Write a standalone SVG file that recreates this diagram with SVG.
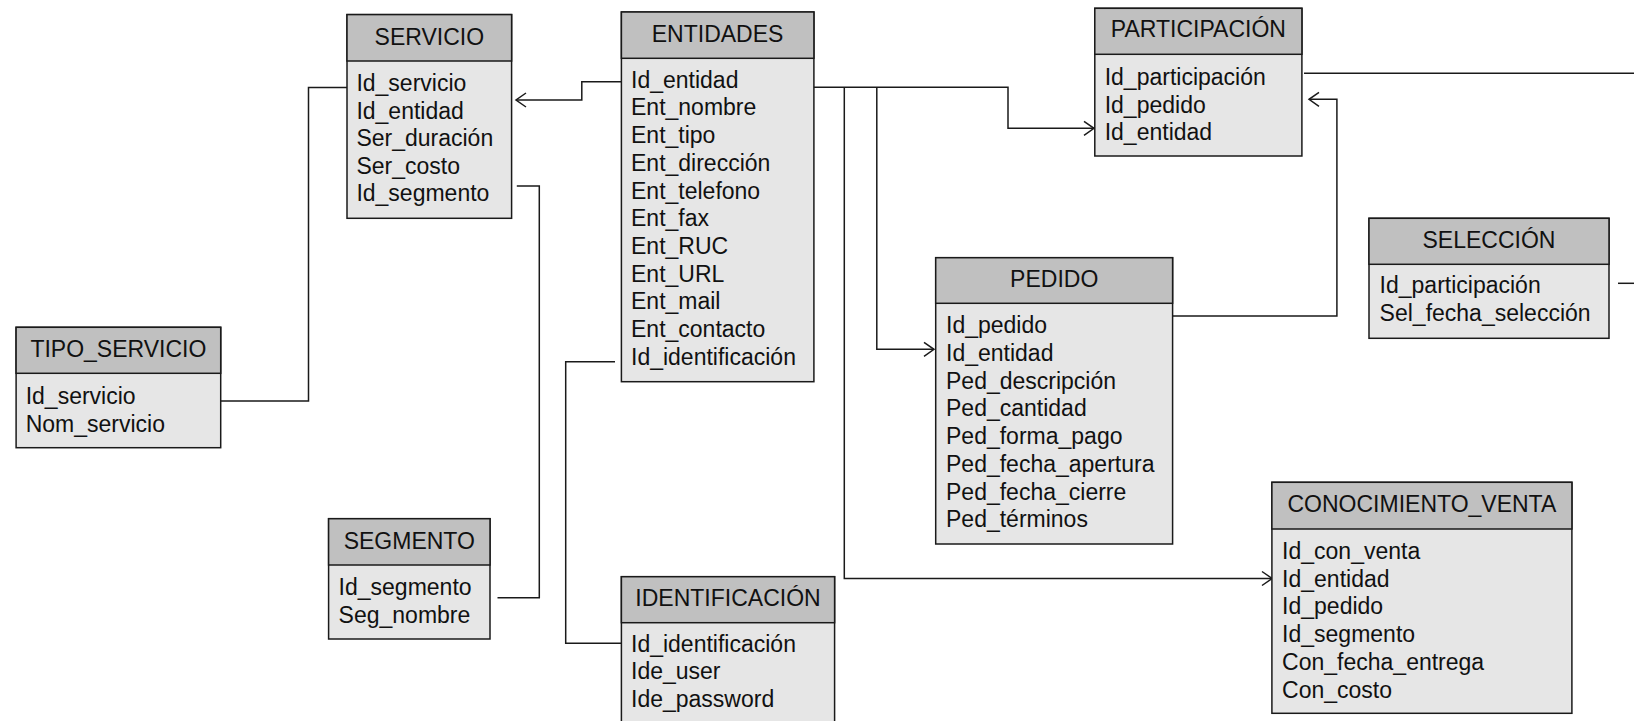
<svg xmlns="http://www.w3.org/2000/svg" width="1634" height="721" viewBox="0 0 1634 721">
<style>
  .hd { fill: #c0c0c0; stroke: #1a1a1a; stroke-width: 1.5; }
  .bd { fill: #e6e6e6; stroke: #1a1a1a; stroke-width: 1.5; }
  text { font-family: "Liberation Sans", Arial, sans-serif; font-size: 23px; fill: #111; }
  .t { text-anchor: middle; }
  .c { fill: none; stroke: #1a1a1a; stroke-width: 1.5; }
</style>
<defs>
  <marker id="arr" markerUnits="userSpaceOnUse" markerWidth="14" markerHeight="18" refX="11" refY="8" orient="auto" viewBox="0 0 14 16">
    <path d="M1,1 L11,8 L1,15" fill="none" stroke="#1a1a1a" stroke-width="1.5"/>
  </marker>
</defs>
<rect width="1634" height="721" fill="#ffffff"/>

<g id="connectors">
  <path class="c" d="M220.7,401 H308.5 V87.5 H352"/>
  <path class="c" d="M623,81.7 H581.8 V100 H516" marker-end="url(#arr)"/>
  <path class="c" d="M811,87.3 H1008 V128.3 H1094" marker-end="url(#arr)"/>
  <path class="c" d="M844.3,87.3 V578.5 H1272" marker-end="url(#arr)"/>
  <path class="c" d="M876.8,87.3 V349.3 H934" marker-end="url(#arr)"/>
  <path class="c" d="M615,361.7 H565.7 V643.3 H622"/>
  <path class="c" d="M516.8,186 H539.3 V597.7 H497.5"/>
  <path class="c" d="M1172.6,316 H1336.9 V99.3 H1309" marker-end="url(#arr)"/>
  <path class="c" d="M1304,73.3 H1634"/>
  <path class="c" d="M1618,283.3 H1634"/>
</g>

<g id="servicio">
  <rect class="bd" x="347" y="14.6" width="164.6" height="203.7"/>
  <rect class="hd" x="347" y="14.6" width="164.6" height="46.4"/>
  <text class="t" x="429.3" y="45">SERVICIO</text>
  <text x="356.4" y="91">Id_servicio</text>
  <text x="356.4" y="118.6">Id_entidad</text>
  <text x="356.4" y="146.2">Ser_duración</text>
  <text x="356.4" y="173.8">Ser_costo</text>
  <text x="356.4" y="201.4">Id_segmento</text>
</g>

<g id="entidades">
  <rect class="bd" x="621.4" y="12" width="192.5" height="369.7"/>
  <rect class="hd" x="621.4" y="12" width="192.5" height="46.3"/>
  <text class="t" x="717.6" y="41.7">ENTIDADES</text>
  <text x="631" y="87.7">Id_entidad</text>
  <text x="631" y="115.4">Ent_nombre</text>
  <text x="631" y="143.1">Ent_tipo</text>
  <text x="631" y="170.8">Ent_dirección</text>
  <text x="631" y="198.5">Ent_telefono</text>
  <text x="631" y="226.2">Ent_fax</text>
  <text x="631" y="253.9">Ent_RUC</text>
  <text x="631" y="281.6">Ent_URL</text>
  <text x="631" y="309.3">Ent_mail</text>
  <text x="631" y="337">Ent_contacto</text>
  <text x="631" y="364.7">Id_identificación</text>
</g>

<g id="tipo_servicio">
  <rect class="bd" x="16.1" y="327.3" width="204.6" height="120.4"/>
  <rect class="hd" x="16.1" y="327.3" width="204.6" height="46"/>
  <text class="t" x="118.4" y="357.3">TIPO_SERVICIO</text>
  <text x="25.7" y="404">Id_servicio</text>
  <text x="25.7" y="431.6">Nom_servicio</text>
</g>

<g id="segmento">
  <rect class="bd" x="328.6" y="518.7" width="161.4" height="120.3"/>
  <rect class="hd" x="328.6" y="518.7" width="161.4" height="46.3"/>
  <text class="t" x="409.3" y="549.3">SEGMENTO</text>
  <text x="338.6" y="595">Id_segmento</text>
  <text x="338.6" y="622.7">Seg_nombre</text>
</g>

<g id="identificacion">
  <rect class="bd" x="621.4" y="576.7" width="213.2" height="160"/>
  <rect class="hd" x="621.4" y="576.7" width="213.2" height="46"/>
  <text class="t" x="728" y="606">IDENTIFICACIÓN</text>
  <text x="631" y="651.7">Id_identificación</text>
  <text x="631" y="679.4">Ide_user</text>
  <text x="631" y="707">Ide_password</text>
</g>

<g id="pedido">
  <rect class="bd" x="935.7" y="257.7" width="236.9" height="286.3"/>
  <rect class="hd" x="935.7" y="257.7" width="236.9" height="45.6"/>
  <text class="t" x="1054.2" y="287.3">PEDIDO</text>
  <text x="946" y="333.3">Id_pedido</text>
  <text x="946" y="361">Id_entidad</text>
  <text x="946" y="388.7">Ped_descripción</text>
  <text x="946" y="416.4">Ped_cantidad</text>
  <text x="946" y="444.1">Ped_forma_pago</text>
  <text x="946" y="471.8">Ped_fecha_apertura</text>
  <text x="946" y="499.5">Ped_fecha_cierre</text>
  <text x="946" y="527.2">Ped_términos</text>
</g>

<g id="participacion">
  <rect class="bd" x="1094.8" y="8.3" width="207.1" height="147.7"/>
  <rect class="hd" x="1094.8" y="8.3" width="207.1" height="46"/>
  <text class="t" x="1198.4" y="37.3">PARTICIPACIÓN</text>
  <text x="1104.7" y="85">Id_participación</text>
  <text x="1104.7" y="112.7">Id_pedido</text>
  <text x="1104.7" y="140.3">Id_entidad</text>
</g>

<g id="seleccion">
  <rect class="bd" x="1369" y="218.3" width="240" height="120"/>
  <rect class="hd" x="1369" y="218.3" width="240" height="46"/>
  <text class="t" x="1489" y="247.7">SELECCIÓN</text>
  <text x="1379.6" y="293.3">Id_participación</text>
  <text x="1379.6" y="321">Sel_fecha_selección</text>
</g>

<g id="conocimiento_venta">
  <rect class="bd" x="1271.9" y="482.3" width="300" height="231"/>
  <rect class="hd" x="1271.9" y="482.3" width="300" height="46.7"/>
  <text class="t" x="1421.9" y="512.3">CONOCIMIENTO_VENTA</text>
  <text x="1282.1" y="559">Id_con_venta</text>
  <text x="1282.1" y="586.7">Id_entidad</text>
  <text x="1282.1" y="614.4">Id_pedido</text>
  <text x="1282.1" y="642.1">Id_segmento</text>
  <text x="1282.1" y="669.8">Con_fecha_entrega</text>
  <text x="1282.1" y="697.5">Con_costo</text>
</g>
</svg>
